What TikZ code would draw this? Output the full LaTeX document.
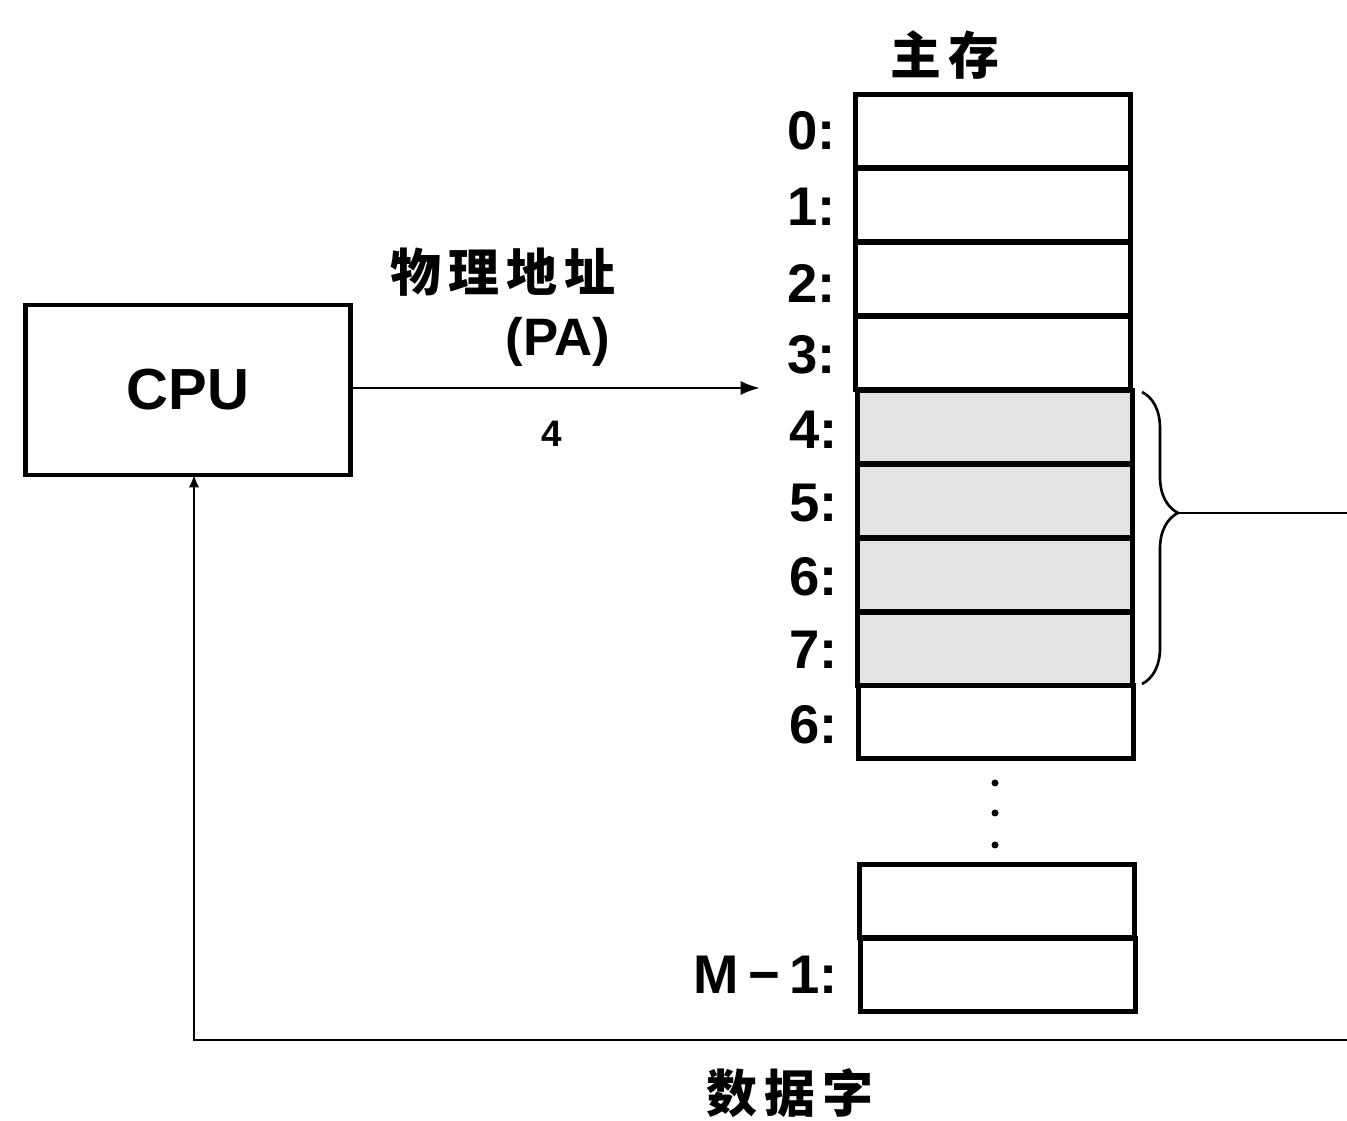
\documentclass[tikz,border=0pt]{standalone}
\usepackage{fontspec}
\setmainfont{Liberation Sans}
\newfontfamily\cjk{Noto Sans CJK SC}
\usetikzlibrary{arrows.meta,decorations.pathreplacing}
\newcommand{\cs}{\hspace{4pt}}
\begin{document}
\begin{tikzpicture}[x=0.02cm,y=-0.02cm,
  cell/.style={draw,line width=2.6pt,minimum width=5.5cm,minimum height=1.46cm,inner sep=0pt,outer sep=0pt},
  shaded/.style={cell,fill=gray!22},
  lab/.style={anchor=east,inner sep=0pt,font=\bfseries\fontsize{31}{33}\selectfont},
  cjklab/.style={inner sep=0pt,font=\cjk\bfseries\fontsize{29}{32}\selectfont},
  thinline/.style={line width=1.3pt},
  dotm/.style={circle,fill,inner sep=0pt,minimum size=0.14cm}]
\useasboundingbox (0,0) rectangle (1347,1121);
% CPU
\node[draw,line width=2.4pt,minimum width=6.5cm,minimum height=3.4cm,inner sep=0pt,outer sep=0pt,font=\bfseries\fontsize{33}{35}\selectfont] (cpu) at (188,390) {CPU};
% memory title
\node[cjklab] (title) at (945,55) {主\cs 存};
% memory cells
\node[cell] (m0) at (993,131) {};
\node[cell] (m1) at (993,205) {};
\node[cell] (m2) at (993,279) {};
\node[cell] (m3) at (993,353) {};
\node[shaded] (m4) at (995,427) {};
\node[shaded] (m5) at (995,501) {};
\node[shaded] (m6) at (995,575) {};
\node[shaded] (m7) at (995,649) {};
\node[cell] (m8) at (996,722) {};
\node[cell] (m9) at (997,901) {};
\node[cell] (m10) at (998,975) {};
% labels
\node[lab] (l0) at (836,131) {0:};
\node[lab] (l1) at (836,207) {1:};
\node[lab] (l2) at (836,283) {2:};
\node[lab] (l3) at (836,355) {3:};
\node[lab] (l4) at (838,430) {4:};
\node[lab] (l5) at (838,503) {5:};
\node[lab] (l6) at (838,577) {6:};
\node[lab] (l7) at (838,650) {7:};
\node[lab] (l8) at (838,725) {6:};
\node[lab] (l10) at (838,975) {M\,−\,1:};
% dots
\node[dotm] (d1) at (995,783) {};
\node[dotm] (d2) at (995,813) {};
\node[dotm] (d3) at (995,845) {};
% address arrow
\coordinate (pa) at (760,388);
\draw[line width=1.5pt,-{Latex[length=11pt,width=8pt]}] (cpu.east |- pa) -- (pa);
\node[cjklab] (pal) at (503,272) {物\cs 理\cs 地\cs 址};
\node[inner sep=0pt,font=\bfseries\fontsize{30}{32}\selectfont] (pal2) at (558,342) {(PA)};
\node[inner sep=0pt,font=\bfseries\fontsize{21}{24}\selectfont] (four) at (552,434) {4};
% brace
\coordinate (bt) at (1142,392);
\coordinate (bb) at (1142,684);
\draw[line width=1.5pt,decorate,decoration={brace,amplitude=0.72cm,aspect=0.414}] (bt) -- (bb);
\coordinate (btip) at (1178,513);
\coordinate (bend) at (1347,513);
\draw[line width=1.4pt] (btip) -- (bend);
% data word return
\coordinate (r2) at (1347,1040);
\coordinate (bl) at (194,1040);
\draw[thinline,-{Latex[length=7pt,width=6pt]}] (r2) -- (bl) -- (bl |- cpu.south);
\node[cjklab] (dw) at (790,1093) {数\cs 据\cs 字};
\end{tikzpicture}
\end{document}
